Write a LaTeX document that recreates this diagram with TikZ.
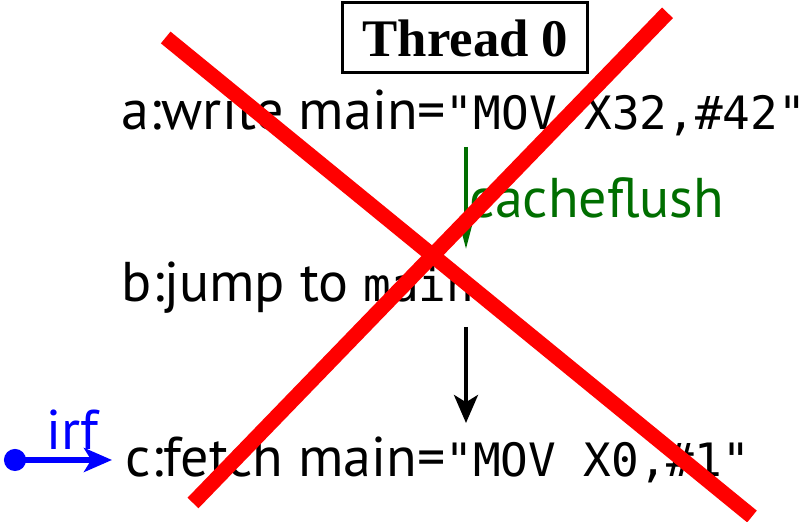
\documentclass[tikz,border=0pt]{standalone}
\usepackage{fontspec}
\setmainfont{PT Sans}
\setmonofont{DejaVu Sans Mono}
\newfontfamily\titlefont{Liberation Serif}
\usetikzlibrary{arrows.meta}
\definecolor{flushgreen}{RGB}{0,110,0}
\definecolor{crossred}{RGB}{255,0,0}
\newcommand{\code}[1]{{\fontsize{11.5}{13}\ttfamily #1}}
\begin{document}
\begin{tikzpicture}[x=0.25pt,y=-0.25pt,
  event/.style={inner sep=0pt, anchor=base west, font=\fontsize{14}{16}\selectfont},
  threadbox/.style={draw, line width=0.75pt, minimum width=61.25pt, minimum height=17.5pt,
    inner sep=0pt, font=\titlefont\bfseries\fontsize{13.2}{15}\selectfont},
  flush/.style={draw=flushgreen, line width=1.15pt,
    -{Triangle[length=7.5pt,width=3.4pt]}},
  po/.style={draw=black, line width=1pt,
    -{Stealth[length=7pt,width=6pt,inset=1.8pt]}},
  irfarrow/.style={draw=blue, line width=1.4pt,
    {Circle[length=5.5pt,width=5.5pt]}-{Stealth[length=7pt,width=6pt,inset=1.8pt]}},
  cross/.style={draw=crossred, line width=3.8pt}]
\useasboundingbox (0,0) rectangle (808,522);

% thread header
\node[threadbox] (thr) at (465.5,38) {Thread 0};

% events of thread 0
\node[event] (a) at (121,130) {a:write main=\code{"MOV X32,\#42"}};
\node[event] (b) at (121,302) {b:jump to \code{main}};
\node[event] (c) at (125,477) {c:fetch main=\code{"MOV X0,\#1"}};

% cache flush between a and b
\coordinate (fa) at (466,147);
\coordinate (fb) at (466,250);
\draw[flush] (fa) -- (fb);
\node[event, text=flushgreen] (flbl) at (469,218) {cacheflush};

% program order b -> c
\coordinate (pb) at (466,327);
\coordinate (pc) at (466,423);
\draw[po] (pb) -- (pc);

% instruction read-from edge into c
\coordinate (src) at (4,460);
\coordinate (dst) at (112,460);
\draw[irfarrow] (src) -- (dst);
\node[event, text=blue] (irflbl) at (46,450) {irf};

% crossing-out
\coordinate (x1a) at (165.7,37.5);
\coordinate (x1b) at (752,516.5);
\coordinate (x2a) at (667.5,12.8);
\coordinate (x2b) at (193,503);
\draw[cross] (x1a) -- (x1b);
\draw[cross] (x2a) -- (x2b);
\end{tikzpicture}
\end{document}
